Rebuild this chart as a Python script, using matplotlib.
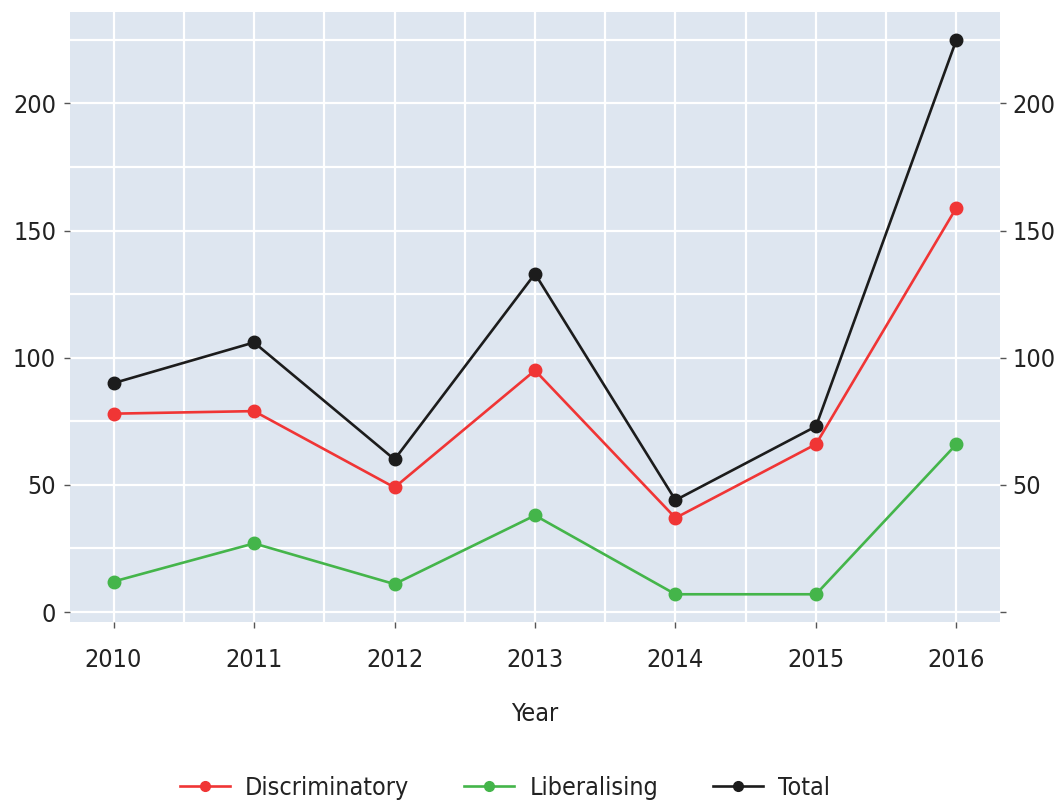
import matplotlib
matplotlib.use("Agg")
import matplotlib.pyplot as plt
from matplotlib.lines import Line2D

years = [2010, 2011, 2012, 2013, 2014, 2015, 2016]
discriminatory = [78, 79, 49, 95, 37, 66, 159]
liberalising = [12, 27, 11, 38, 7, 7, 66]
total = [90, 106, 60, 133, 44, 73, 225]
series_names = ["Discriminatory", "Liberalising", "Total"]
colors = ["#f03535", "#44b54a", "#1c1c1c"]
y_ticks = [0, 50, 100, 150, 200]
right_labels = ["", "50", "100", "150", "200"]

plt.rcParams['font.family'] = ['DejaVu Sans']
plt.rcParams['font.stretch'] = 'condensed'

fig = plt.figure(figsize=(10.59, 8.05), dpi=100)
ax = fig.add_axes([70/1059, 1-622/805, 930/1059, 610/805])
ax.set_facecolor("#dee6f0")

for vals, c in zip([discriminatory, liberalising, total], colors):
    ax.plot(years, vals, color=c, lw=1.9, marker='o', markersize=9, zorder=3)

ax.set_xlim(2009.69, 2016.31)
ax.set_ylim(-3.9, 235.9)
ax.set_yticks(y_ticks)
ax.set_yticks([25, 75, 125, 175, 225], minor=True)
ax.set_xticks(years)
ax.set_xticks([y + 0.5 for y in years[:-1]], minor=True)
ax.set_xticklabels([str(y) for y in years])
ax.grid(which='both', color='white', lw=1.6)
ax.set_axisbelow(True)
for s in ax.spines.values():
    s.set_visible(False)
ax.tick_params(which='major', length=4, width=1, color='#555555', labelsize=18, labelcolor='#222222', pad=6)
ax.tick_params(axis='x', which='major', pad=15)
ax.tick_params(which='minor', length=0)

sec = ax.secondary_yaxis('right')
sec.set_yticks(y_ticks)
sec.set_yticklabels(right_labels)
sec.spines['right'].set_visible(False)
sec.tick_params(length=4, width=1, color='#555555', labelsize=18, labelcolor='#222222', pad=5)

ax.set_xlabel("Year", fontsize=18, color='#222222', labelpad=21)

handles = [Line2D([0], [0], color=c, lw=1.9, marker='o', markersize=7) for c in colors]
fig.legend(handles, series_names, loc='center', bbox_to_anchor=(0.477, 0.021), ncol=3,
           frameon=False, fontsize=18, handlelength=2.0, columnspacing=2.2, handletextpad=0.6,
           labelcolor='#222222')

fig.savefig("out.png", dpi=100)
